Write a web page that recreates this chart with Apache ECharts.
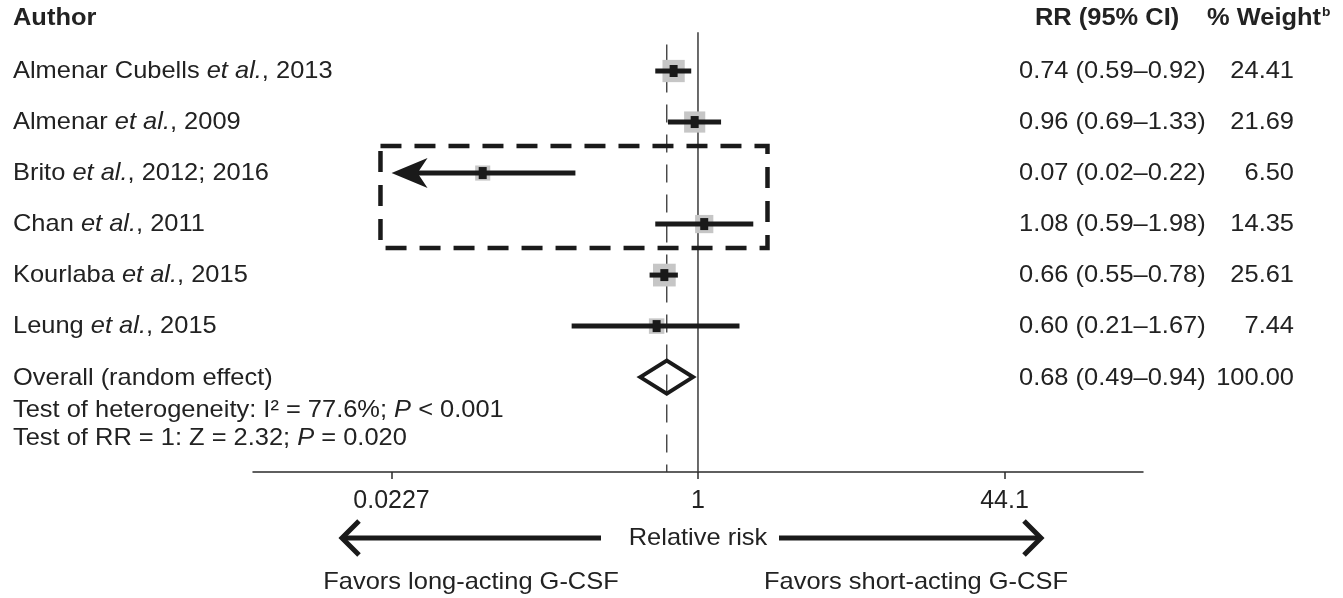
<!DOCTYPE html>
<html><head><meta charset="utf-8">
<script src="https://cdn.jsdelivr.net/npm/echarts@6/dist/echarts.min.js"></script>
<style>html,body{margin:0;padding:0;background:#fff}#c{width:1343px;height:598px}</style>
</head><body><div id="c"></div>
<script>
// ---------------- data ----------------
const authors  = ['Almenar Cubells', 'Almenar', 'Brito', 'Chan', 'Kourlaba', 'Leung'];
const years    = ['2013', '2009', '2012; 2016', '2011', '2015', '2015'];
const rr       = [0.74, 0.96, 0.07, 1.08, 0.66, 0.60];
const ciLow    = [0.59, 0.69, 0.02, 0.59, 0.55, 0.21];
const ciHigh   = [0.92, 1.33, 0.22, 1.98, 0.78, 1.67];
const weights  = [24.41, 21.69, 6.50, 14.35, 25.61, 7.44];
const overallRR   = [0.68];
const overallLow  = [0.49];
const overallHigh = [0.94];
const overallWeight = [100.00];
const tickValues = [0.0227, 1, 44.1];
const tickLabels = ['0.0227', '1', '44.1'];
const hetI2 = '77.6%', hetP = '< 0.001', testZ = '2.32', testP = '= 0.020';
const boxedRR   = [0.0198, 2.36];   // highlighted region (RR bounds)
const boxedRows = [1.47, 3.47];     // highlighted region (row bounds)

// ---------------- helpers ----------------
const L = v => Math.log10(v);
const FONT = 'Liberation Sans';
const FS = 24;
const SX = 1.06;
const TXT = '#222';
const INK = '#1a1a1a';
const ROW_MIN = -1, ROW_MAX = 7.86;

const chart = echarts.init(document.getElementById('c'), null, {renderer: 'canvas'});

const studyData = rr.map((v, i) => [L(ciLow[i]), L(ciHigh[i]), L(v), i, weights[i]]);
const overallRow = authors.length;
const overallData = [[L(overallLow[0]), L(overallHigh[0]), L(overallRR[0]), overallRow]];
const clipMin = L(tickValues[0]);

const option = {
  animation: false,
  backgroundColor: '#fff',
  grid: {left: 253, right: 200, top: 20, bottom: 126},
  xAxis: {
    type: 'value', min: L(0.0041), max: L(244),
    axisLine: {show: true, onZero: false, lineStyle: {color: '#2b2b2b', width: 1.5}},
    axisTick: {show: true, customValues: tickValues.map(L), length: 7, lineStyle: {color: '#2b2b2b', width: 1.5}},
    axisLabel: {
      customValues: tickValues.map(L),
      formatter: v => {
        let best = 0;
        tickValues.forEach((t, i) => { if (Math.abs(L(t) - v) < Math.abs(L(tickValues[best]) - v)) best = i; });
        return tickLabels[best];
      },
      fontSize: 25, fontFamily: FONT, color: TXT, margin: 17
    },
    splitLine: {show: false}
  },
  yAxis: {type: 'value', inverse: true, min: ROW_MIN, max: ROW_MAX, show: false},
  series: [
    { // no-effect line at RR = 1
      type: 'line', silent: true, symbol: 'none', z: 1,
      data: [[L(tickValues[1]), -0.76], [L(tickValues[1]), ROW_MAX]],
      lineStyle: {color: '#3a3a3a', width: 1.5}
    },
    { // overall estimate dashed line
      type: 'line', silent: true, symbol: 'none', z: 1,
      data: [[L(overallRR[0]), -0.52], [L(overallRR[0]), ROW_MAX]],
      lineStyle: {color: '#333', width: 1.3, type: [18, 12]}
    },
    { // studies
      type: 'custom', silent: true, z: 3,
      data: studyData,
      renderItem: (params, api) => {
        const lo = api.value(0), hi = api.value(1), c = api.value(2), row = api.value(3), w = api.value(4);
        const truncated = lo < clipMin;
        const pLo = api.coord([truncated ? clipMin : lo, row]);
        const pHi = api.coord([hi, row]);
        const pC = api.coord([c, row]);
        const s = 12.5 + 0.4 * w;
        const children = [
          {type: 'rect', shape: {x: pC[0] - s / 2, y: pC[1] - s / 2, width: s, height: s}, style: {fill: '#c6c6c6'}},
          {type: 'line', shape: {x1: pLo[0] + (truncated ? 20 : 0), y1: pLo[1], x2: pHi[0], y2: pHi[1]}, style: {stroke: INK, lineWidth: 5}},
          {type: 'rect', shape: {x: pC[0] - 4, y: pC[1] - 6, width: 8, height: 12}, style: {fill: INK}}
        ];
        if (truncated) {
          children.push({type: 'polygon', shape: {points: [
            [pLo[0], pLo[1]], [pLo[0] + 36, pLo[1] - 15], [pLo[0] + 26, pLo[1]], [pLo[0] + 36, pLo[1] + 15]
          ]}, style: {fill: INK}});
        }
        return {type: 'group', children};
      }
    },
    { // overall diamond
      type: 'custom', silent: true, z: 2,
      data: overallData,
      renderItem: (params, api) => {
        const pLo = api.coord([api.value(0), api.value(3)]);
        const pHi = api.coord([api.value(1), api.value(3)]);
        const pC = api.coord([api.value(2), api.value(3)]);
        return {type: 'polygon', shape: {points: [
          [pLo[0], pC[1]], [pC[0], pC[1] - 16.5], [pHi[0], pC[1]], [pC[0], pC[1] + 16.5]
        ]}, style: {fill: 'rgba(0,0,0,0)', stroke: INK, lineWidth: 4, lineJoin: 'miter'}};
      }
    },
    { // highlighted dashed box
      type: 'line', silent: true, symbol: 'none', z: 5,
      data: [
        [L(boxedRR[0]), boxedRows[0]], [L(boxedRR[1]), boxedRows[0]],
        [L(boxedRR[1]), boxedRows[1]], [L(boxedRR[0]), boxedRows[1]],
        [L(boxedRR[0]), boxedRows[0]]
      ],
      lineStyle: {color: INK, width: 4.5, type: [21, 13], join: 'miter'}
    }
  ]
};
chart.setOption(option);

// ---------------- table text ----------------
const rowY = i => chart.convertToPixel({yAxisIndex: 0}, i);
const xAt = v => chart.convertToPixel({xAxisIndex: 0}, L(v));
const base = {fontSize: FS, fontFamily: FONT, fill: TXT};
const rich = {
  n: {fontSize: FS, fontFamily: FONT, color: TXT},
  i: {fontSize: FS, fontFamily: FONT, color: TXT, fontStyle: 'italic'},
  b: {fontSize: FS, fontFamily: FONT, color: TXT, fontWeight: 'bold'},
  s: {fontSize: 13, fontFamily: FONT, color: TXT, fontWeight: 'bold', verticalAlign: 'top', padding: [0, 0, 8, 1]}
};
const fmtCI = (v, lo, hi) => v.toFixed(2) + ' (' + lo.toFixed(2) + '–' + hi.toFixed(2) + ')';
const g = [];
const txt = (text, x, y, align, extra) => g.push({type: 'text', x, y, scaleX: SX, silent: true,
  style: Object.assign({text, align: align || 'left', verticalAlign: 'middle', rich}, base, extra || {})});

const LEFT_X = 13, CI_X = 1019, W_X = 1294;
txt('{b|Author}', LEFT_X, rowY(-1) - 2);
txt('{b|RR (95% CI)}', 1035, rowY(-1) - 2);
txt('{b|% Weight}{s|b}', 1207, rowY(-1) - 2);
authors.forEach((a, i) => {
  txt('{n|' + a + ' }{i|et al.}{n|, ' + years[i] + '}', LEFT_X, rowY(i));
  txt(fmtCI(rr[i], ciLow[i], ciHigh[i]), CI_X, rowY(i));
  txt(weights[i].toFixed(2), W_X, rowY(i), 'right');
});
const yo = rowY(overallRow);
txt('Overall (random effect)', LEFT_X, yo + 1);
txt('{n|Test of heterogeneity: I² = ' + hetI2 + '; }{i|P}{n| ' + hetP + '}', LEFT_X, yo + 33);
txt('{n|Test of RR = 1: Z = ' + testZ + '; }{i|P}{n| ' + testP + '}', LEFT_X, yo + 61);
txt(fmtCI(overallRR[0], overallLow[0], overallHigh[0]), CI_X, yo + 1);
txt(overallWeight[0].toFixed(2), W_X, yo + 1, 'right');

// bottom annotation
const cx = xAt(1);
const ay = 538;
txt('Relative risk', cx, ay, 'center');
const arrowStyle = {stroke: INK, lineWidth: 5, fill: null, lineJoin: 'miter', lineCap: 'butt'};
g.push({type: 'line', silent: true, shape: {x1: 601, y1: ay, x2: 344, y2: ay}, style: arrowStyle});
g.push({type: 'polyline', silent: true, shape: {points: [[359, ay - 17], [342, ay], [359, ay + 17]]}, style: arrowStyle});
g.push({type: 'line', silent: true, shape: {x1: 779, y1: ay, x2: 1038, y2: ay}, style: arrowStyle});
g.push({type: 'polyline', silent: true, shape: {points: [[1024, ay - 17], [1041, ay], [1024, ay + 17]]}, style: arrowStyle});
txt('Favors long-acting G-CSF', 471, 582, 'center');
txt('Favors short-acting G-CSF', 916, 582, 'center');

chart.setOption({graphic: {elements: g}});
</script>
</body></html>
